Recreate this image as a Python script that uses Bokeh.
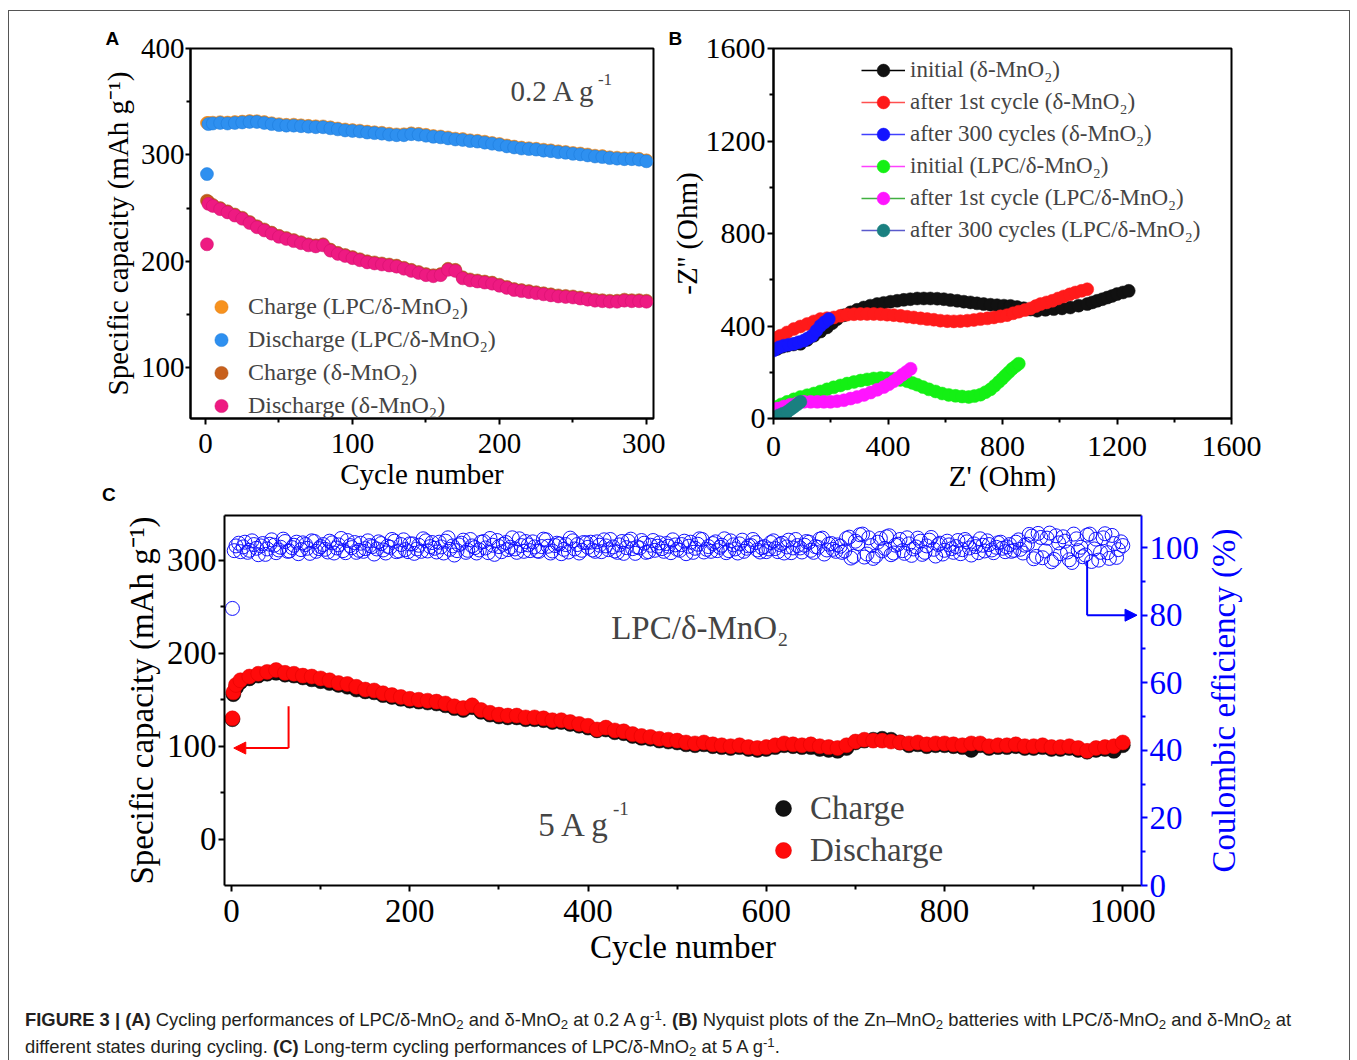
from bokeh.plotting import figure
from bokeh.models import (Range1d, LinearAxis, FixedTicker, Legend, LegendItem,
                          Label, Arrow, NormalHead, Div)
from bokeh.layouts import column, row
from bokeh.embed import file_html
from bokeh.resources import INLINE

SERIF = "Liberation Serif"

# ---------------- Panel A data (0.2 A g-1 cycling) ----------------
a_cycle = [1, 2] + list(range(5, 305, 5))
a_dis_lpc = [282, 329,
             329.5, 330, 329.5, 330, 330.5, 331, 331, 330, 329, 328,
             327.5, 327.5, 327, 326.5, 326, 326, 325, 324, 323, 322.5,
             322, 321, 320.5, 320, 319, 318.5, 318.5, 319.5, 319, 318,
             317, 316.5, 315.5, 314.5, 314, 313, 312.5, 311.5, 310.5, 309.5,
             308, 307, 306, 305.5, 305, 304, 303.5, 302.5, 302, 301,
             300.5, 299.5, 298.5, 298, 297, 296.5, 296, 296, 295.5, 294]
a_chg_lpc = [330, 330,
             330.3, 330.8, 330.4, 330.9, 331.3, 331.8, 331.7, 330.9, 329.8, 328.9,
             328.3, 328.4, 327.8, 327.3, 326.9, 326.8, 325.9, 324.8, 323.9, 323.3,
             322.8, 321.9, 321.3, 320.8, 319.9, 319.3, 319.4, 320.3, 319.8, 318.9,
             317.8, 317.3, 316.4, 315.3, 314.9, 313.8, 313.3, 312.4, 311.3, 310.3,
             308.9, 307.8, 306.9, 306.3, 305.8, 304.9, 304.3, 303.4, 302.8, 301.9,
             301.3, 300.4, 299.3, 298.9, 297.8, 297.4, 296.8, 296.9, 296.3, 294.9]
a_dis_d = [216, 254,
           252, 249, 246, 243, 240, 236, 232, 229, 226, 223,
           221, 219, 217, 215, 214, 215, 210, 207, 205, 203,
           201, 199, 198, 197, 196, 195, 193, 191, 189, 187,
           186, 187, 192, 191, 184, 182, 181, 180, 179, 177,
           175, 173, 172, 171, 170, 169, 168, 167, 166.5, 166,
           165, 164, 163, 162.5, 162, 162, 163, 162.5, 162.5, 162]
a_chg_d = [257, 256,
           253, 250, 247, 244, 241, 237, 233, 230, 227, 224,
           222, 220, 218, 216, 215, 216, 211, 208, 206, 204,
           202, 200, 199, 198, 197, 196, 194, 192, 190, 188,
           187, 188, 193, 192, 185, 183, 182, 181, 180, 178,
           176, 174, 173, 172, 171, 170, 169, 168, 167.5, 167,
           166, 165, 164, 163.5, 163, 163, 164, 163.5, 163.5, 163]

# ---------------- Panel B data (Nyquist) ----------------
b_init_d_x = [13, 30, 48, 70, 94, 118, 141, 164, 187, 205, 222, 245, 269, 292, 315, 338, 362, 385,
              409, 432, 455, 478, 502, 525, 548, 572, 595, 618, 642, 665, 688, 711, 734, 758, 781,
              805, 828, 851, 874, 898, 921, 950, 979, 1008, 1037, 1066, 1096, 1114, 1131, 1149,
              1166, 1183, 1200, 1221, 1241]
b_init_d_y = [301, 310, 315, 320, 323, 340, 358, 376, 394, 412, 430, 446, 459, 470, 480, 488, 495, 500,
              505, 509, 513, 516, 519, 519, 519, 518, 516, 512, 509, 505, 502, 498, 495, 492, 490,
              488, 487, 482, 477, 471, 466, 470, 473, 476, 480, 488, 495, 502, 509, 516,
              523, 530, 538, 545, 552]
b_1st_d_x = [1, 12, 24, 47, 71, 94, 118, 141, 164, 187, 211, 234, 257, 281, 304, 327, 350, 374, 397,
             420, 444, 467, 490, 514, 537, 560, 583, 607, 630, 653, 677, 700, 723, 747, 770, 793,
             816, 837, 857, 878, 898, 916, 933, 954, 974, 994, 1014, 1035, 1055, 1076, 1096]
b_1st_d_y = [337, 348, 358, 372, 387, 398, 409, 420, 430, 434, 437, 444, 449, 451, 452, 452, 452, 451, 449,
             447, 444, 440, 437, 433, 430, 427, 423, 421, 420, 421, 423, 426, 430, 433, 437, 442,
             447, 455, 462, 469, 476, 486, 495, 502, 509, 519, 528, 537, 545, 552, 559]
b_300_d_x = [0, 7, 20, 36, 53, 71, 88, 106, 120, 135, 150, 164, 178, 193]
b_300_d_y = [294, 300, 308, 315, 319, 323, 330, 337, 347, 358, 380, 401, 416, 430]
b_init_l_x = [0, 7, 27, 48, 71, 94, 118, 141, 164, 187, 210, 234, 257, 281, 304, 327, 350, 374, 397,
              420, 443, 467, 485, 502, 522, 543, 566, 589, 612, 636, 659, 682, 702, 723, 741, 758,
              773, 787, 799, 810, 822, 834, 846, 857]
b_init_l_y = [42, 50, 61, 72, 83, 93, 101, 108, 117, 126, 135, 143, 151, 158, 164, 169, 173, 175, 174,
              172, 167, 161, 154, 146, 136, 126, 117, 108, 102, 98, 95, 93, 97, 103, 114, 126,
              142, 158, 172, 186, 200, 215, 226, 237]
b_1st_l_x = [0, 13, 36, 59, 83, 106, 130, 153, 176, 199, 222, 246, 269, 292, 316, 339, 362, 385, 403,
             420, 435, 450, 465, 479]
b_1st_l_y = [30, 43, 52, 60, 66, 72, 72, 72, 72, 72, 75, 79, 86, 93, 102, 112, 124, 136, 148,
             161, 175, 189, 202, 215]
b_300_l_x = [0, 10, 19, 33, 48, 60, 71, 83, 94]
b_300_l_y = [2, 5, 14, 21, 29, 40, 50, 61, 72]

# ---------------- Panel C data (5 A g-1, 1000 cycles) ----------------
c_cycle = [1, 2, 5] + list(range(10, 1010, 10))
c_dis = [130, 158, 166,
         171, 175, 178, 180, 182, 179, 178, 176, 175, 173,
         171, 168, 167, 164, 161, 160, 157, 155, 153, 151,
         150, 149, 148, 146, 143, 141, 144, 139, 136, 134,
         133, 133, 131, 131, 130, 128, 128, 126, 124, 122,
         118, 120, 117, 116, 113, 111, 110, 108, 107, 106,
         104, 103, 104, 102, 101, 100, 101, 99, 98, 99,
         101, 103, 102, 101, 102, 100, 99, 98, 101, 105,
         107, 106, 106, 105, 104, 103, 104, 102, 103, 103,
         102, 101, 103, 103, 100, 101, 101, 102, 100, 100,
         101, 99, 99, 100, 98, 95, 98, 99, 100, 104]
c_chg = [129, 156, 163,
         169, 173, 176, 178, 179, 177, 176, 174, 172, 170,
         168, 166, 164, 161, 159, 158, 155, 153, 151, 149,
         148, 147, 146, 144, 141, 139, 142, 137, 134, 132,
         131, 131, 129, 129, 128, 126, 126, 124, 122, 120,
         117, 118, 115, 114, 111, 109, 108, 106, 105, 104,
         102, 101, 102, 100, 99, 98, 99, 97, 96, 97,
         99, 101, 100, 99, 99, 97, 96, 95, 98, 104,
         106, 107, 108, 107, 104, 101, 102, 100, 101, 101,
         100, 99, 96, 101, 98, 99, 99, 100, 98, 98,
         99, 97, 97, 98, 96, 94, 96, 97, 95, 101]
c_ce_cycle = [1] + list(range(5, 1005, 5))
c_ce = [82,
        100.5, 98.8, 101.6, 99.2, 100.9, 97.9, 101.2, 99.6, 102.3, 98.5, 100.1, 101.8, 99.0, 100.7, 98.2, 101.4, 99.8, 102.0, 98.9, 100.3,
        99.5, 101.9, 98.4, 100.8, 99.1, 102.1, 100.0, 98.6, 101.3, 99.7, 100.6, 98.1, 101.7, 99.3, 100.4, 102.4, 98.8, 100.9, 99.4, 101.1,
        98.3, 100.7, 102.6, 99.0, 101.5, 98.7, 100.2, 101.9, 99.5, 97.8, 100.8, 102.2, 99.2, 100.5, 98.4, 101.6, 99.9, 102.7, 98.0, 100.3,
        101.0, 99.4, 102.9, 98.6, 100.6, 101.8, 99.1, 100.2, 98.9, 102.5, 100.4, 99.0, 101.3, 98.2, 100.9, 102.8, 99.6, 98.4, 101.5, 100.1,
        99.3, 101.7, 98.8, 100.5, 102.4, 99.0, 100.8, 98.3, 101.9, 99.7, 100.2, 102.1, 98.6, 100.7, 99.2, 101.4, 98.9, 100.4, 102.3, 99.5,
        100.9, 98.2, 101.6, 99.8, 102.6, 98.7, 100.3, 101.2, 99.1, 100.7, 98.5, 102.0, 99.6, 101.1, 98.9, 100.5, 102.4, 99.3, 100.0, 98.8,
        101.5, 99.7, 100.9, 98.4, 102.2, 99.9, 100.6, 98.7, 101.8, 99.2, 100.3, 102.5, 98.1, 101.0, 99.5, 100.8, 98.6, 102.7, 96.9, 101.9,
        103.8, 97.2, 102.9, 96.8, 101.6, 99.0, 103.2, 97.9, 100.7, 102.4, 98.3, 101.1, 99.6, 102.8, 98.0, 100.5, 103.0, 97.5, 101.3, 99.2,
        100.8, 98.6, 102.1, 99.4, 101.7, 97.8, 100.3, 102.6, 99.0, 100.9, 98.5, 101.4, 99.8, 100.2, 98.9, 101.6, 99.5, 100.7, 103.9, 96.7,
        104.2, 97.0, 102.8, 95.8, 103.5, 98.2, 101.9, 96.4, 104.0, 99.1, 97.3, 103.7, 95.9, 102.5, 98.6, 104.1, 96.8, 101.2, 99.4, 100.6]
c_ce_cycle_b = list(range(3, 1003, 5))
c_ce_b = [99.1, 101.3, 100.2, 98.6, 102.0, 99.8, 100.5, 98.0, 101.0, 100.7, 99.3, 102.5, 98.9, 100.0, 101.6, 99.4, 100.9, 98.3, 101.8, 99.7,
          100.9, 98.7, 101.4, 99.9, 102.7, 98.5, 100.6, 101.5, 99.2, 98.9, 102.0, 100.3, 99.6, 101.2, 98.4, 100.1, 101.9, 99.0, 102.3, 98.8,
          101.1, 99.6, 98.9, 102.0, 100.3, 99.8, 101.6, 98.4, 102.9, 100.5, 99.1, 101.3, 98.6, 102.4, 100.0, 99.3, 101.8, 98.5, 100.7, 102.1,
          98.8, 101.5, 100.1, 99.6, 102.6, 98.9, 100.8, 101.7, 99.0, 100.3, 102.3, 98.4, 100.6, 101.1, 99.5, 98.7, 102.0, 100.9, 99.2, 101.4,
          101.6, 98.9, 100.7, 102.3, 99.4, 100.2, 98.6, 101.8, 100.0, 102.5, 98.3, 99.9, 101.3, 98.8, 102.1, 100.4, 99.7, 101.2, 98.5, 100.8,
          99.2, 101.9, 100.4, 98.6, 101.0, 102.4, 99.5, 98.9, 101.7, 100.1, 102.6, 99.1, 100.8, 98.4, 102.2, 99.8, 100.6, 101.5, 98.7, 100.3,
          99.6, 102.0, 98.8, 101.3, 100.2, 98.5, 102.4, 99.9, 100.7, 101.6, 98.6, 100.1, 102.8, 99.3, 101.2, 98.9, 100.4, 99.0, 103.1, 97.4,
          101.2, 104.0, 98.1, 100.6, 97.5, 102.7, 99.8, 103.5, 98.4, 101.0, 99.1, 102.9, 97.7, 100.2, 101.9, 98.6, 102.2, 99.5, 100.9, 98.1,
          101.9, 99.7, 100.3, 98.2, 102.4, 99.9, 101.1, 98.5, 100.7, 102.0, 99.3, 100.1, 101.6, 98.8, 100.9, 99.2, 102.3, 98.4, 101.0, 103.4,
          97.4, 103.0, 99.0, 104.3, 96.5, 101.4, 103.2, 98.7, 95.6, 102.6, 100.1, 97.8, 104.0, 99.6, 96.3, 102.9, 98.5, 103.6, 97.1, 101.7]

a_xticks = [0, 100, 200, 300]
a_yticks = [100, 200, 300, 400]
b_ticks = [0, 400, 800, 1200, 1600]
c_xticks = [0, 200, 400, 600, 800, 1000]
c_yticks = [0, 100, 200, 300]
c_ceticks = [0, 20, 40, 60, 80, 100]


def style_axis(ax, size, color="black", lab_size=None, standoff=2, lab_standoff=4, tick_out=6):
    ax.axis_line_width = 2
    ax.axis_line_color = color
    ax.major_tick_line_width = 2
    ax.major_tick_line_color = color
    ax.minor_tick_line_width = 2
    ax.minor_tick_line_color = color
    ax.major_tick_in = 0
    ax.major_tick_out = tick_out
    ax.minor_tick_in = 0
    ax.minor_tick_out = 4
    ax.major_label_text_font = SERIF
    ax.major_label_text_font_size = size
    ax.major_label_text_color = color
    ax.major_label_standoff = standoff
    ax.axis_label_text_font = SERIF
    ax.axis_label_text_font_size = lab_size or size
    ax.axis_label_text_font_style = "normal"
    ax.axis_label_text_color = color
    ax.axis_label_standoff = lab_standoff


def make_fig(w, h, xr, yr, ml, mr, mt, mb, **kw):
    p = figure(width=w, height=h, x_range=xr, y_range=yr, output_backend="svg",
               toolbar_location=None, tools="",
               min_border_left=ml, min_border_right=mr, min_border_top=mt, min_border_bottom=mb, **kw)
    p.xgrid.visible = False
    p.ygrid.visible = False
    p.background_fill_color = None
    p.border_fill_color = None
    return p


def panel_title(p, letter, offset):
    p.title.text = letter
    p.title.align = "left"
    p.title.offset = offset
    p.title.standoff = 0
    p.title.text_font = "Liberation Sans"
    p.title.text_font_size = "19px"
    p.title.text_font_style = "bold"
    p.title.text_color = "black"


# ================= Panel A =================
pA = make_fig(665, 500, Range1d(-10.2, 304.8), Range1d(52.3, 400), 190, 12, 47, 82)
pA.outline_line_color = "black"
pA.outline_line_width = 2
pA.xaxis.ticker = FixedTicker(ticks=a_xticks, minor_ticks=[50, 150, 250])
pA.yaxis.ticker = FixedTicker(ticks=a_yticks, minor_ticks=[150, 250, 350])
pA.xaxis.axis_label = "Cycle number"
pA.yaxis.axis_label = "Specific capacity (mAh g\u207b\u00b9)"
style_axis(pA.xaxis[0], "29px", standoff=9, lab_standoff=2)
style_axis(pA.yaxis[0], "29px", standoff=1, tick_out=5)
panel_title(pA, "A", -85)

ms_a = 13
rA1 = pA.scatter(a_cycle, a_chg_lpc, size=ms_a, fill_color="#F7921E", line_color="#E07A10", line_width=0.5)
rA2 = pA.scatter(a_cycle, a_dis_lpc, size=ms_a, fill_color="#2E90F0", line_color="#1A78D8", line_width=0.5)
rA3 = pA.scatter(a_cycle, a_chg_d, size=ms_a, fill_color="#C8601C", line_color="#A84C10", line_width=0.5)
rA4 = pA.scatter(a_cycle, a_dis_d, size=ms_a, fill_color="#EE1A82", line_color="#D0106C", line_width=0.5)
legA = Legend(items=[LegendItem(label="Charge (LPC/\u03b4-MnO\u2082)", renderers=[rA1]),
                     LegendItem(label="Discharge (LPC/\u03b4-MnO\u2082)", renderers=[rA2]),
                     LegendItem(label="Charge (\u03b4-MnO\u2082)", renderers=[rA3]),
                     LegendItem(label="Discharge (\u03b4-MnO\u2082)", renderers=[rA4])],
              location=(14, -4), padding=0, margin=0, spacing=0, glyph_width=34, glyph_height=33,
              label_standoff=10, label_text_font=SERIF, label_text_font_size="24px",
              border_line_color=None, background_fill_alpha=0)
pA.add_layout(legA)
pA.add_layout(Label(x=207.5, y=360, text="0.2 A g", text_font=SERIF, text_font_size="29px",
                    text_baseline="alphabetic"))
pA.add_layout(Label(x=267, y=370.5, text="-1", text_font=SERIF, text_font_size="17px",
                    text_baseline="alphabetic"))

# ================= Panel B =================
pB = make_fig(692, 500, Range1d(0, 1600), Range1d(0, 1600), 108, 126, 48, 80)
pB.outline_line_color = "black"
pB.outline_line_width = 2
pB.xaxis.ticker = FixedTicker(ticks=b_ticks, minor_ticks=[200, 600, 1000, 1400])
pB.yaxis.ticker = FixedTicker(ticks=b_ticks, minor_ticks=[200, 600, 1000, 1400])
pB.xaxis.axis_label = "Z' (Ohm)"
pB.yaxis.axis_label = "-Z'' (Ohm)"
style_axis(pB.xaxis[0], "30px", lab_size="29px", standoff=12, lab_standoff=1)
style_axis(pB.yaxis[0], "30px", lab_size="29px", lab_standoff=0)
panel_title(pB, "B", -105)

series_b = [
    (b_init_d_x, b_init_d_y, "#111111", "#000000", "initial (\u03b4-MnO\u2082)"),
    (b_1st_d_x, b_1st_d_y, "#FF1A1A", "#FF5050", "after 1st cycle (\u03b4-MnO\u2082)"),
    (b_300_d_x, b_300_d_y, "#1414FF", "#4040FF", "after 300 cycles (\u03b4-MnO\u2082)"),
    (b_init_l_x, b_init_l_y, "#14F014", "#FF40FF", "initial (LPC/\u03b4-MnO\u2082)"),
    (b_1st_l_x, b_1st_l_y, "#FF14FF", "#40B040", "after 1st cycle (LPC/\u03b4-MnO\u2082)"),
    (b_300_l_x, b_300_l_y, "#1A8080", "#5A5ACC", "after 300 cycles (LPC/\u03b4-MnO\u2082)"),
]
items_b = []
for xs, ys, mc, lc, lab in series_b:
    lr = pB.line(xs, ys, line_color=lc, line_width=1.5)
    sr = pB.scatter(xs, ys, size=13, fill_color=mc, line_color=mc, line_width=0.5)
    items_b.append(LegendItem(label=lab, renderers=[lr, sr]))
legB = Legend(items=items_b, location=(88, 172), padding=0, margin=0, spacing=0,
              glyph_width=44, glyph_height=32, label_standoff=5, label_text_font=SERIF,
              label_text_font_size="23px", border_line_color=None, background_fill_alpha=0)
pB.add_layout(legB)

# ================= Panel C =================
pC = make_fig(1205, 490, Range1d(-7.9, 1021), Range1d(-50, 348.4), 224, 64, 15, 105)
pC.outline_line_color = None
pC.extra_y_ranges = {"ce": Range1d(0, 109.5)}
pC.xaxis.ticker = FixedTicker(ticks=c_xticks, minor_ticks=[100, 300, 500, 700, 900])
pC.yaxis.ticker = FixedTicker(ticks=c_yticks, minor_ticks=[50, 150, 250])
pC.xaxis.axis_label = "Cycle number"
pC.yaxis.axis_label = "Specific capacity (mAh g\u207b\u00b9)"
style_axis(pC.xaxis[0], "33px", standoff=8)
style_axis(pC.yaxis[0], "33px")
top_ax = LinearAxis(ticker=FixedTicker(ticks=[]), axis_line_width=2, axis_line_color="black")
pC.add_layout(top_ax, "above")
ce_ax = LinearAxis(y_range_name="ce", ticker=FixedTicker(ticks=c_ceticks,
                                                          minor_ticks=[10, 30, 50, 70, 90]))
style_axis(ce_ax, "33px", color="#0000FF")
pC.add_layout(ce_ax, "right")

pC.scatter(c_ce_cycle, c_ce, y_range_name="ce", size=14, fill_color=None,
           line_color="#1010FF", line_width=1)
pC.scatter(c_ce_cycle_b, c_ce_b, y_range_name="ce", size=14, fill_color=None,
           line_color="#1010FF", line_width=1)
rC1 = pC.scatter(c_cycle, c_chg, size=15, fill_color="#111111", line_color="#000000", line_width=0.5)
rC2 = pC.scatter(c_cycle, c_dis, size=15, fill_color="#FF0A0A", line_color="#E00000", line_width=0.5)
legC = Legend(items=[LegendItem(label="Charge", renderers=[rC1]),
                     LegendItem(label="Discharge", renderers=[rC2])],
              location=(539, 14), padding=0, margin=0, spacing=0, glyph_width=40, glyph_height=42,
              label_standoff=7, label_text_font=SERIF, label_text_font_size="33px",
              border_line_color=None, background_fill_alpha=0)
pC.add_layout(legC)

pC.add_layout(Arrow(end=None, x_start=64, y_start=143, x_end=64, y_end=98,
                    line_color="#FF0000", line_width=2))
pC.add_layout(Arrow(end=NormalHead(size=12, fill_color="#FF0000", line_color="#FF0000"),
                    x_start=64, y_start=98, x_end=2.5, y_end=98, line_color="#FF0000", line_width=2))
pC.add_layout(Arrow(end=None, x_start=960, y_start=96.2, x_end=960, y_end=80, y_range_name="ce",
                    line_color="#0000FF", line_width=2))
pC.add_layout(Arrow(end=NormalHead(size=12, fill_color="#0000FF", line_color="#0000FF"),
                    x_start=960, y_start=80, x_end=1016, y_end=80, y_range_name="ce",
                    line_color="#0000FF", line_width=2))

pC.add_layout(Label(x=426, y=227, text="LPC/\u03b4-MnO\u2082", text_font=SERIF, text_font_size="33px",
                    text_baseline="alphabetic"))
pC.add_layout(Label(x=344, y=15, text="5 A g", text_font=SERIF, text_font_size="33px",
                    text_baseline="alphabetic"))
pC.add_layout(Label(x=428, y=33, text="-1", text_font=SERIF, text_font_size="19px",
                    text_baseline="alphabetic"))

# right-hand axis title of panel C (reads bottom to top, as a left-axis label of a thin strip)
pCR = make_fig(152, 490, Range1d(0, 1), Range1d(0, 1), 35, 116, 15, 105, x_axis_location=None)
pCR.outline_line_color = None
pCR.yaxis.ticker = FixedTicker(ticks=[])
pCR.yaxis.axis_line_color = None
pCR.yaxis.axis_label = "Coulombic efficiency (%)"
pCR.yaxis.axis_label_text_font = SERIF
pCR.yaxis.axis_label_text_font_size = "33px"
pCR.yaxis.axis_label_text_font_style = "normal"
pCR.yaxis.axis_label_text_color = "#0000FF"
pCR.yaxis.axis_label_standoff = 0
pCR.yaxis.major_tick_out = 0
pCR.yaxis.minor_tick_out = 0
pCR.scatter([0.5], [0.5], size=0, alpha=0)

# ================= Caption (also carries the panel letter C) =================
SUB = "<sub style='font-size:72%;line-height:0;vertical-align:-0.25em'>2</sub>"
SUP = "<sup style='font-size:72%;line-height:0;vertical-align:0.45em'>-1</sup>"
cap_html = (
    "<div style=\"position:relative; padding:16px 0 0 25px; font-family:'Liberation Sans Narrow','Liberation Sans',sans-serif;"
    " font-size:18.4px; line-height:27px; color:#231f20; white-space:nowrap;\">"
    "<span style=\"position:absolute; left:102px; top:-505px; font-family:'Liberation Sans',sans-serif;"
    " font-weight:bold; font-size:19px; line-height:19px; color:#000;\">C</span>"
    "<b>FIGURE 3 | (A)</b> Cycling performances of LPC/\u03b4-MnO" + SUB + " and \u03b4-MnO" + SUB +
    " at 0.2 A g" + SUP + ". <b>(B)</b> Nyquist plots of the Zn\u2013MnO" + SUB +
    " batteries with LPC/\u03b4-MnO" + SUB + " and \u03b4-MnO" + SUB + " at<br>"
    "different states during cycling. <b>(C)</b> Long-term cycling performances of LPC/\u03b4-MnO" + SUB +
    " at 5 A g" + SUP + "."
    "</div>"
)
cap = Div(text=cap_html, width=1357, height=70, margin=0, styles={"overflow": "visible"})

bg = ("linear-gradient(#555,#555) 8px 10px / 1px 1200px no-repeat, "
      "linear-gradient(#555,#555) 8px 10px / 1342px 1px no-repeat, "
      "linear-gradient(#555,#555) 1349px 10px / 1px 1200px no-repeat, #ffffff")
root = column(row(pA, pB), row(pC, pCR), cap, styles={"background": bg})

open("out.html", "w").write(file_html(root, INLINE))
